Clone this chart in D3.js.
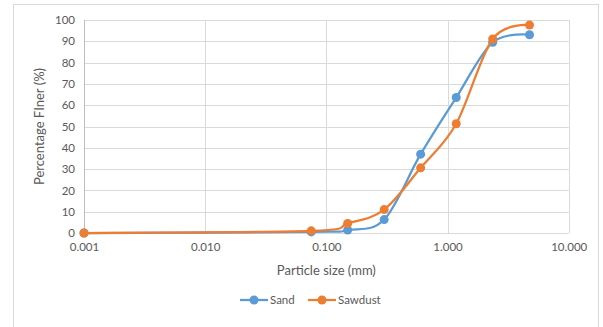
<!DOCTYPE html>
<html lang="en">
<head>
    <meta charset="UTF-8">
    <script src="https://d3js.org/d3.v7.min.js"></script>
    <title>Particle size distribution</title>
    <style>
        body { margin: 0; background: #fff; }
        text { font-family: Lato, "Liberation Sans", sans-serif; fill: #595959; }
    </style>
</head>
<body>
    <script>
        // sieve sizes (mm) and percentage finer
        var sizes = [0.001, 0.075, 0.15, 0.3, 0.6, 1.18, 2.36, 4.75];
        var sand = [0, 0.5, 1.4, 6.3, 37, 63.6, 89.5, 93.1];
        var sawdust = [0, 1, 4.5, 11, 30.6, 51.3, 91.1, 97.6];
        var xTicks = [0.001, 0.01, 0.1, 1, 10];
        var yTicks = [0, 10, 20, 30, 40, 50, 60, 70, 80, 90, 100];
        var seriesNames = ['Sand', 'Sawdust'];
        var colors = ['#5b9bd5', '#ed7d31'];

        var width = 603, height = 327;
        var plotLeft = 84, plotRight = 568.7, plotTop = 20, plotBottom = 233;

        var svg = d3.select('body')
            .append('svg')
            .attr('width', width)
            .attr('height', height);

        // chart frame
        svg.append('rect')
            .attr('x', 13.5)
            .attr('y', 4.5)
            .attr('width', 585)
            .attr('height', 330)
            .attr('fill', '#fff')
            .attr('stroke', '#d9d9d9');

        var xScale = d3.scaleLog()
            .domain([0.001, 10])
            .range([plotLeft, plotRight]);

        var yScale = d3.scaleLinear()
            .domain([0, 100])
            .range([plotBottom, plotTop]);

        // gridlines
        svg.append('g')
            .selectAll('line')
            .data(yTicks)
            .enter()
            .append('line')
            .attr('x1', plotLeft)
            .attr('x2', plotRight)
            .attr('y1', function(d) { return Math.round(yScale(d)) + 0.5; })
            .attr('y2', function(d) { return Math.round(yScale(d)) + 0.5; })
            .attr('stroke', '#d9d9d9');

        svg.append('g')
            .selectAll('line')
            .data(xTicks)
            .enter()
            .append('line')
            .attr('x1', function(d) { return Math.round(xScale(d)) + 0.5; })
            .attr('x2', function(d) { return Math.round(xScale(d)) + 0.5; })
            .attr('y1', plotTop)
            .attr('y2', plotBottom)
            .attr('stroke', function(d) { return d === 0.001 ? '#bfbfbf' : '#d9d9d9'; });

        // axes labels
        var xAxis = d3.axisBottom(xScale)
            .tickValues(xTicks)
            .tickSize(0)
            .tickPadding(10)
            .tickFormat(d3.format('.3f'));

        var yAxis = d3.axisLeft(yScale)
            .tickValues(yTicks)
            .tickSize(0)
            .tickPadding(9);

        var gx = svg.append('g')
            .attr('transform', 'translate(0,' + plotBottom + ')')
            .call(xAxis);
        var gy = svg.append('g')
            .attr('transform', 'translate(' + plotLeft + ',0)')
            .call(yAxis);

        [gx, gy].forEach(function(g) {
            g.select('.domain').remove();
            g.selectAll('text')
                .attr('font-size', '11.5px')
                .attr('fill', '#595959')
                .style('font-family', 'Lato, "Liberation Sans", sans-serif');
        });

        svg.append('text')
            .attr('x', (plotLeft + plotRight) / 2)
            .attr('y', 275)
            .attr('text-anchor', 'middle')
            .attr('font-size', '13px')
            .text('Particle size (mm)');

        svg.append('text')
            .attr('transform', 'translate(44,' + ((plotTop + plotBottom) / 2) + ') rotate(-90)')
            .attr('text-anchor', 'middle')
            .attr('font-size', '13px')
            .text('Percentage FIner (%)');

        // series
        var series = [sand, sawdust].map(function(vals, i) {
            return {
                name: seriesNames[i],
                color: colors[i],
                points: sizes.map(function(s, j) { return { x: s, y: vals[j] }; })
            };
        });

        var line = d3.line()
            .x(function(d) { return xScale(d.x); })
            .y(function(d) { return yScale(d.y); })
            .curve(d3.curveCatmullRom.alpha(0));

        series.forEach(function(s) {
            svg.append('path')
                .datum(s.points)
                .attr('d', line)
                .attr('fill', 'none')
                .attr('stroke', s.color)
                .attr('stroke-width', 2.25);

            svg.append('g')
                .selectAll('circle')
                .data(s.points)
                .enter()
                .append('circle')
                .attr('cx', function(d) { return xScale(d.x); })
                .attr('cy', function(d) { return yScale(d.y); })
                .attr('r', 4.5)
                .attr('fill', s.color);
        });

        // legend
        var legendX = [240, 308];
        var legend = svg.append('g')
            .selectAll('g')
            .data(series)
            .enter()
            .append('g')
            .attr('transform', function(d, i) { return 'translate(' + legendX[i] + ',300)'; });

        legend.append('line')
            .attr('x1', 0)
            .attr('x2', 28)
            .attr('stroke', function(d) { return d.color; })
            .attr('stroke-width', 2.25);
        legend.append('circle')
            .attr('cx', 14)
            .attr('r', 4.5)
            .attr('fill', function(d) { return d.color; });
        legend.append('text')
            .attr('x', 30)
            .attr('dy', '0.35em')
            .attr('font-size', '11.5px')
            .text(function(d) { return d.name; });
    </script>
</body>
</html>
